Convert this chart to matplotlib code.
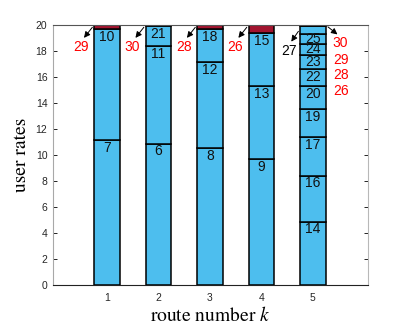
import matplotlib
matplotlib.use('Agg')
import matplotlib.pyplot as plt

# route numbers and the users stacked on each route (bottom to top)
routes = [1, 2, 3, 4, 5]
route_users = [
    [7, 10, 29],
    [6, 11, 21, 30],
    [8, 12, 18, 28],
    [9, 13, 15, 26],
    [14, 16, 17, 19, 20, 22, 23, 24, 25, 27, 26, 28, 29, 30],
]
route_rates = [
    [11.13, 8.57, 0.30],
    [10.88, 7.52, 1.50, 0.10],
    [10.56, 6.57, 2.56, 0.31],
    [9.67, 5.66, 4.08, 0.59],
    [4.87, 3.54, 2.95, 2.15, 1.80, 1.30, 1.10, 0.83, 0.77, 0.60, 0.03, 0.02, 0.02, 0.02],
]
# users drawn in dark red
red_users = [26, 28, 29, 30]
yticks = list(range(0, 21, 2))

blue = '#4DBEEE'
dark_red = '#A2142F'

plt.rcParams['mathtext.fontset'] = 'stix'
plt.rcParams['font.family'] = ['Liberation Sans', 'DejaVu Sans']

fig = plt.figure(figsize=(4.07, 3.26), dpi=100)
ax = fig.add_axes([0.130, 0.126, 0.774, 0.797])

for r, users, rates in zip(routes, route_users, route_rates):
    bottom = 0.0
    for u, h in zip(users, rates):
        col = dark_red if u in red_users else blue
        ax.bar(r, h, width=0.5, bottom=bottom, color=col,
               edgecolor='black', linewidth=1.1, zorder=2)
        top = bottom + h
        if u not in red_users and h > 0.7:
            y = max(bottom + h / 2, top - 0.6)
            ax.text(r, y, str(u), ha='center', va='center', fontsize=10,
                    color='#111111', zorder=3)
        bottom = top

# labels pointing out of the thin top segments
arrow = dict(arrowstyle='-|>', color='black', lw=0.7, mutation_scale=9)
for r, u in zip(routes[:4], [29, 30, 28, 26]):
    ax.annotate('', xy=(r - 0.48, 18.85), xytext=(r - 0.25, 20),
                arrowprops=arrow, annotation_clip=False, zorder=4)
    ax.text(r - 0.51, 18.3, str(u), ha='center', va='center',
            fontsize=10, color='red')

ax.annotate('', xy=(4.55, 18.55), xytext=(4.75, 19.7),
            arrowprops=arrow, annotation_clip=False, zorder=4)
ax.text(4.53, 17.98, '27', ha='center', va='center', fontsize=10, color='black')

ax.annotate('', xy=(5.52, 19.15), xytext=(5.25, 20),
            arrowprops=arrow, annotation_clip=False, zorder=4)
for u, y in zip([30, 29, 28, 26], [18.6, 17.33, 16.13, 14.9]):
    ax.text(5.54, y, str(u), ha='center', va='center', fontsize=10, color='red')

ax.set_xlim(-0.05, 6.07)
ax.set_ylim(0, 20)
ax.set_xticks(routes)
ax.set_yticks(yticks)
ax.tick_params(direction='in', length=3, width=0.6, labelsize=7.5,
               labelcolor='#262626', right=True, top=False, pad=4)
ax.tick_params(axis='x', pad=6)

ax.spines['left'].set_color('#a8a8a8')
ax.spines['right'].set_color('#b8b8b8')
ax.spines['top'].set_color('#555555')
ax.spines['bottom'].set_color('#222222')
for s in ax.spines.values():
    s.set_linewidth(0.8)

ax.set_xlabel('route number $k$', family='STIXGeneral', fontsize=14, labelpad=2)
ax.set_ylabel('user rates', family='STIXGeneral', fontsize=14, labelpad=4)

fig.savefig('out.png', dpi=100, facecolor='white')
